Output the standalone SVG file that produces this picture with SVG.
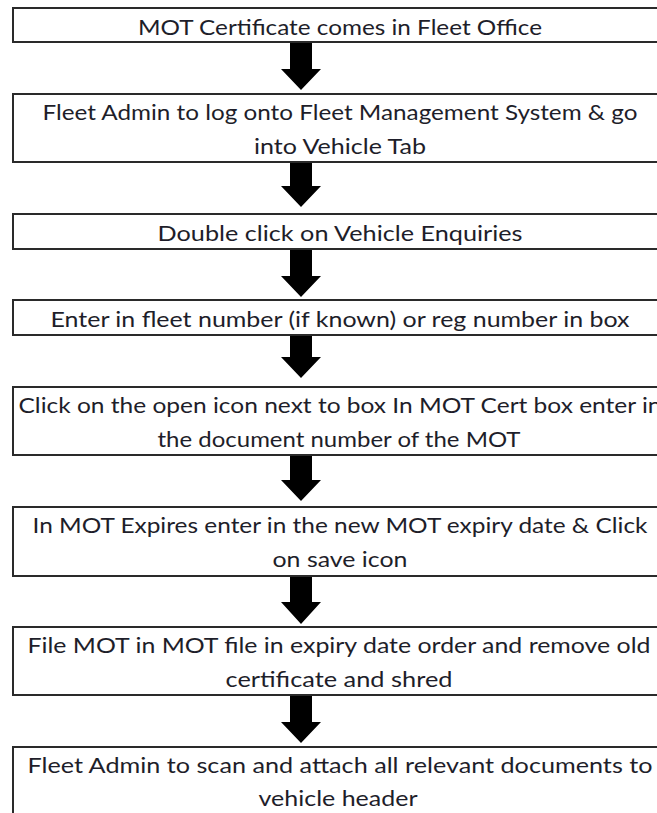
<svg xmlns="http://www.w3.org/2000/svg" width="657" height="813" viewBox="0 0 657 813">
<style>
.box{fill:#ffffff;stroke:#2a2a2a;stroke-width:2}
.t{font-family:"Lato","Liberation Sans",sans-serif;font-size:22px;fill:#1e1e2a;text-anchor:middle}
.arr{fill:#000000}
</style>
<rect x="0" y="0" width="657" height="813" fill="#ffffff"/>
<g id="connectors">
<polygon class="arr" points="290,43 312,43 312,69 321,69 301,90 281,69 290,69"/>
<polygon class="arr" points="290,163 312,163 312,186 321,186 301,207 281,186 290,186"/>
<polygon class="arr" points="290,250 312,250 312,276 321,276 301,297 281,276 290,276"/>
<polygon class="arr" points="290,332 312,332 312,357 321,357 301,378 281,357 290,357"/>
<polygon class="arr" points="290,456 312,456 312,480 321,480 301,501 281,480 290,480"/>
<polygon class="arr" points="290,577 312,577 312,602 321,602 301,624 281,602 290,602"/>
<polygon class="arr" points="290,696 312,696 312,722 321,722 301,743 281,722 290,722"/>
</g>
<g id="n1"><rect class="box" x="13" y="8" width="660" height="34"/>
<text class="t" x="340" y="35" textLength="404" lengthAdjust="spacingAndGlyphs">MOT Certificate comes in Fleet Office</text></g>
<g id="n2"><rect class="box" x="13" y="94" width="660" height="68"/>
<text class="t" x="340" y="120" textLength="595" lengthAdjust="spacingAndGlyphs">Fleet Admin to log onto Fleet Management System &amp; go</text>
<text class="t" x="340" y="154" textLength="172" lengthAdjust="spacingAndGlyphs">into Vehicle Tab</text></g>
<g id="n3"><rect class="box" x="13" y="214" width="660" height="35"/>
<text class="t" x="340" y="241" textLength="365" lengthAdjust="spacingAndGlyphs">Double click on Vehicle Enquiries</text></g>
<g id="n4"><rect class="box" x="13" y="300" width="660" height="35"/>
<text class="t" x="340" y="327" textLength="579" lengthAdjust="spacingAndGlyphs">Enter in fleet number (if known) or reg number in box</text></g>
<g id="n5"><rect class="box" x="13" y="387" width="660" height="68"/>
<text class="t" x="340" y="413" textLength="643" lengthAdjust="spacingAndGlyphs">Click on the open icon next to box In MOT Cert box enter in</text>
<text class="t" x="339" y="447" textLength="363" lengthAdjust="spacingAndGlyphs">the document number of the MOT</text></g>
<g id="n6"><rect class="box" x="13" y="507" width="660" height="69"/>
<text class="t" x="340" y="533" textLength="615" lengthAdjust="spacingAndGlyphs">In MOT Expires enter in the new MOT expiry date &amp; Click</text>
<text class="t" x="340" y="567" textLength="135" lengthAdjust="spacingAndGlyphs">on save icon</text></g>
<g id="n7"><rect class="box" x="13" y="627" width="660" height="68"/>
<text class="t" x="339" y="653" textLength="623" lengthAdjust="spacingAndGlyphs">File MOT in MOT file in expiry date order and remove old</text>
<text class="t" x="339" y="687" textLength="227" lengthAdjust="spacingAndGlyphs">certificate and shred</text></g>
<g id="n8"><rect class="box" x="13" y="747" width="660" height="80"/>
<text class="t" x="340" y="773" textLength="625" lengthAdjust="spacingAndGlyphs">Fleet Admin to scan and attach all relevant documents to</text>
<text class="t" x="338" y="806" textLength="159" lengthAdjust="spacingAndGlyphs">vehicle header</text></g>
</svg>
